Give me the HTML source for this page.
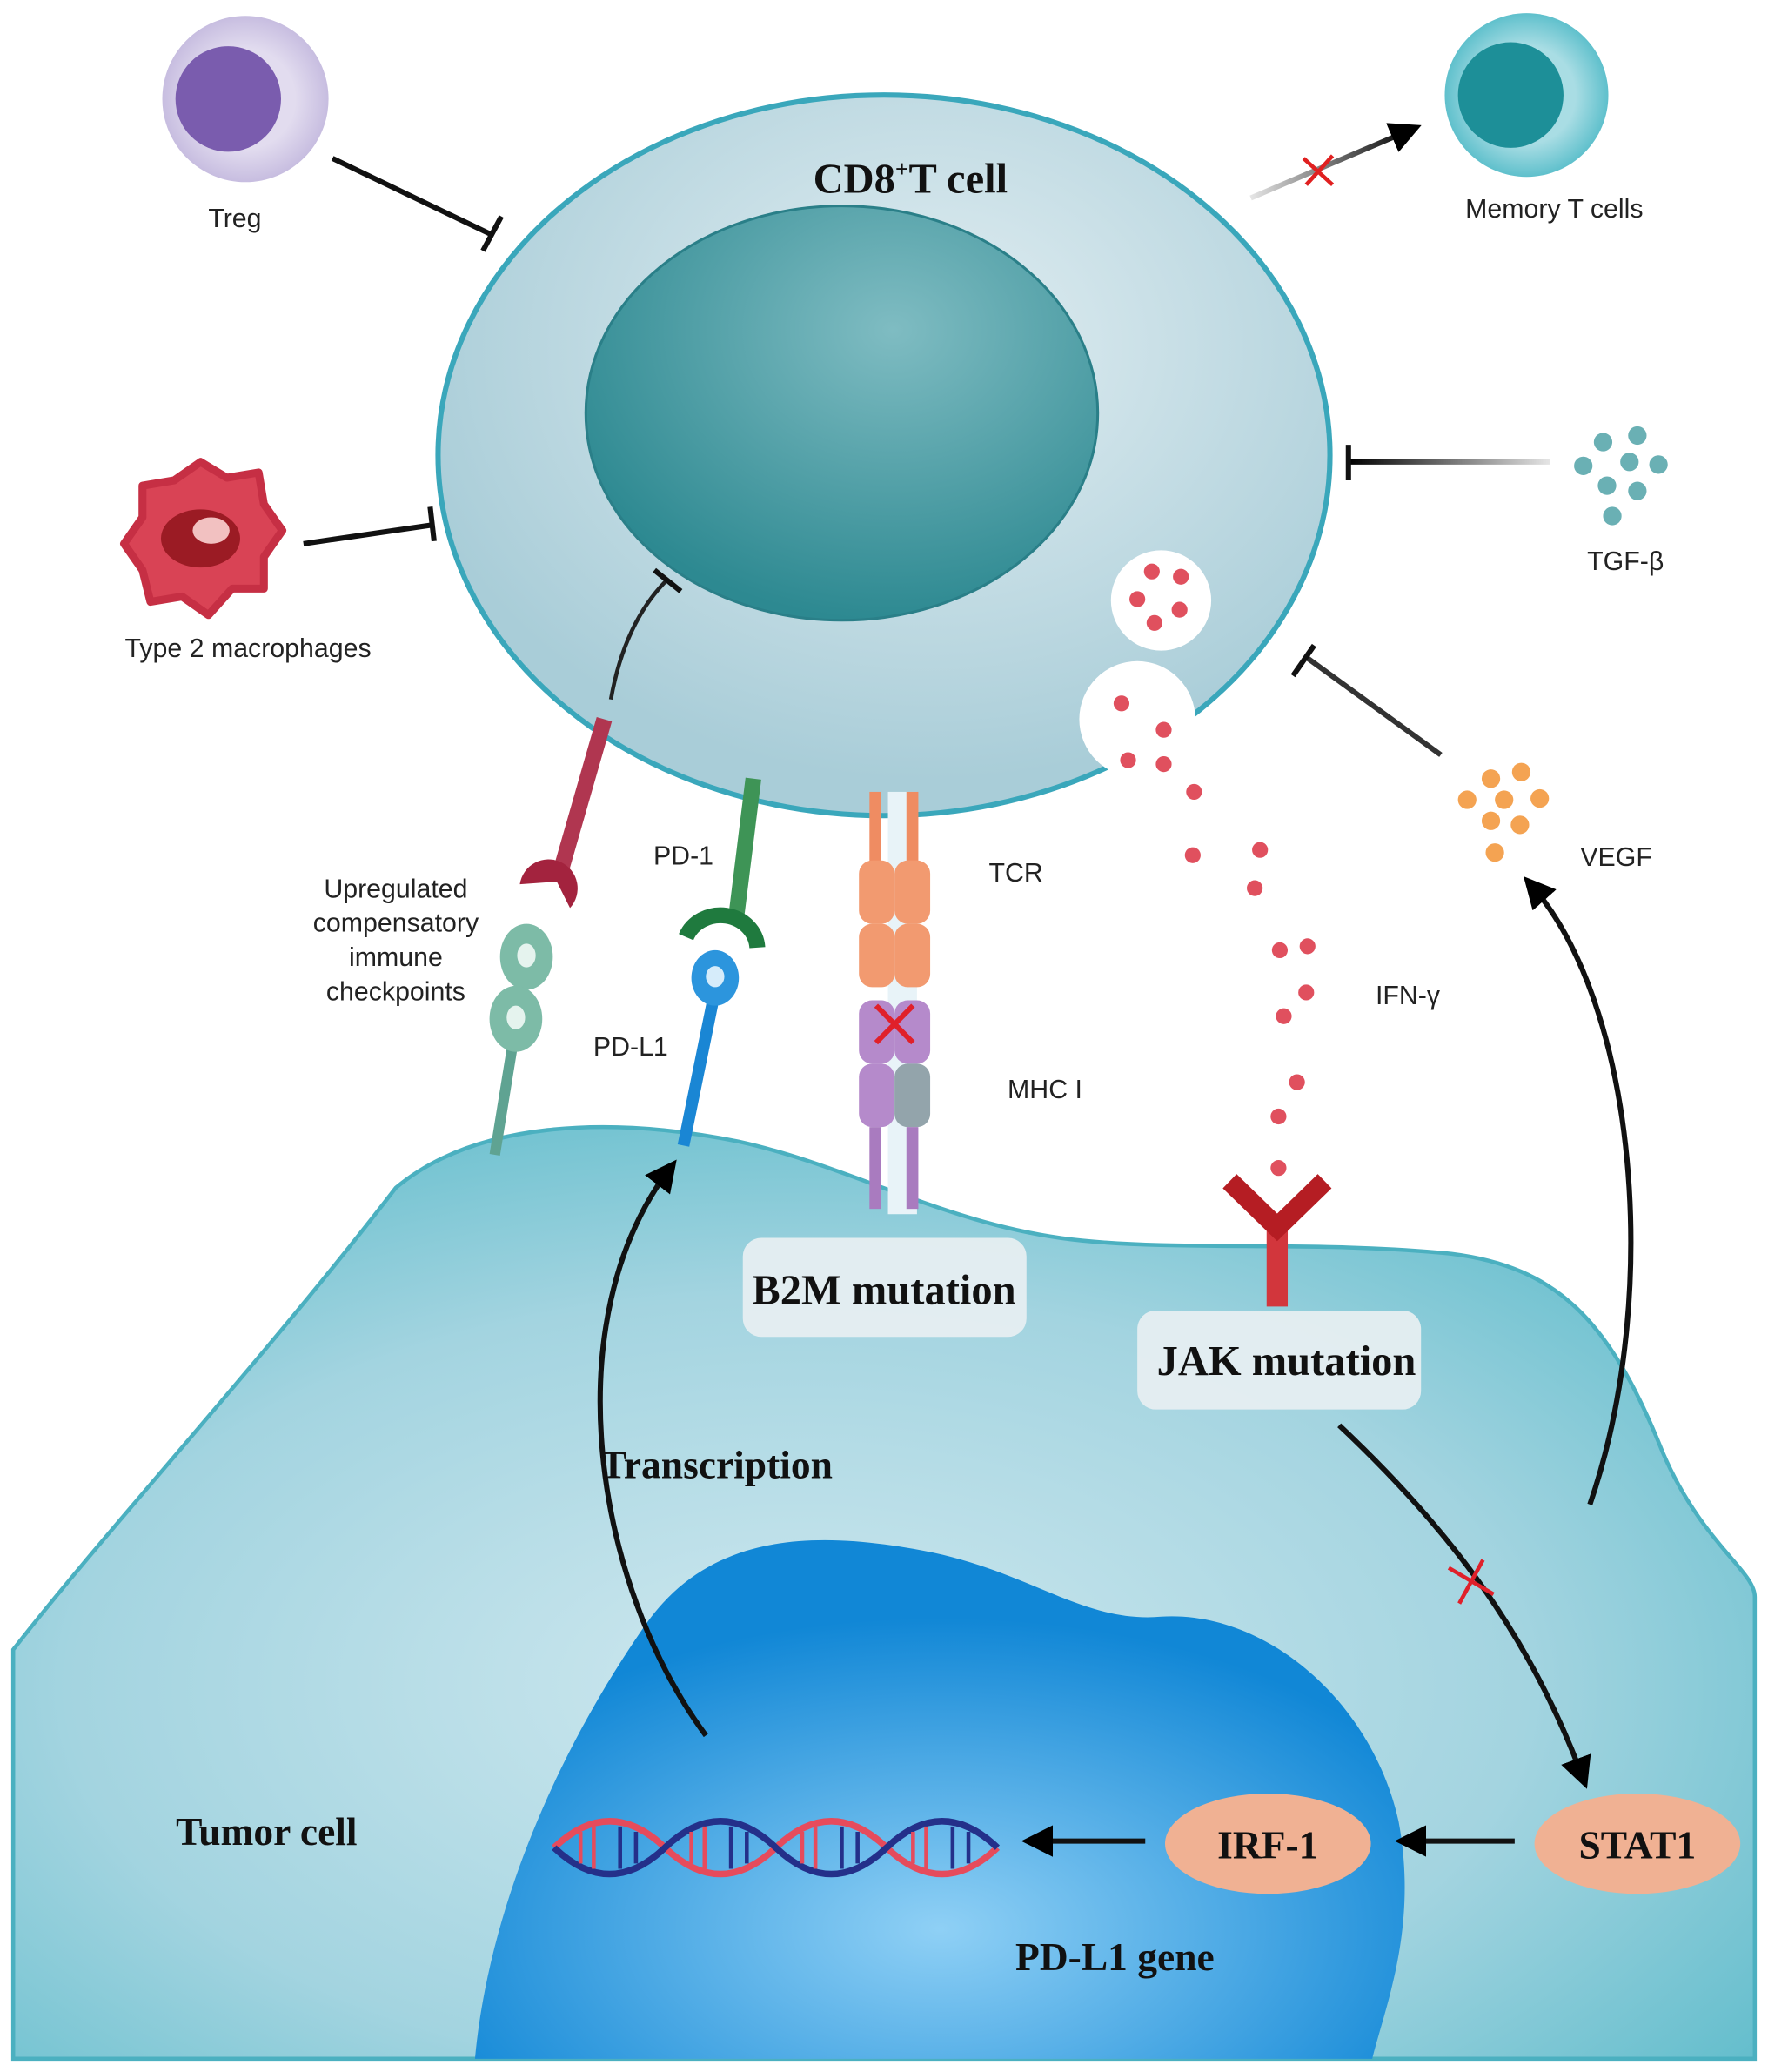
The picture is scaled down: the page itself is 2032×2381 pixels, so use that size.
<!DOCTYPE html>
<html><head><meta charset="utf-8"><style>
html,body{margin:0;padding:0;background:#fff;}
svg{display:block;}
.s{font-family:"Liberation Sans",sans-serif;fill:#222;}
.b{font-family:"Liberation Serif",serif;font-weight:bold;fill:#111;}
</style></head><body>
<svg width="2032" height="2381" viewBox="0 0 1340 1570" preserveAspectRatio="none" xmlns="http://www.w3.org/2000/svg">
<defs>
<radialGradient id="tum" cx="0.45" cy="0.6" r="0.7"><stop offset="0" stop-color="#cfe8ef"/><stop offset="0.6" stop-color="#a3d4e0"/><stop offset="1" stop-color="#5fbccb"/></radialGradient>
<radialGradient id="nuc" cx="0.5" cy="0.75" r="0.6"><stop offset="0" stop-color="#8fd0f5"/><stop offset="1" stop-color="#1187d6"/></radialGradient>
<radialGradient id="tc" cx="0.55" cy="0.35" r="0.6"><stop offset="0" stop-color="#e2eef2"/><stop offset="1" stop-color="#a9cdd8"/></radialGradient>
<radialGradient id="tn" cx="0.6" cy="0.3" r="0.7"><stop offset="0" stop-color="#7fbcc2"/><stop offset="1" stop-color="#2d8991"/></radialGradient>
<radialGradient id="tr" cx="0.5" cy="0.5" r="0.5"><stop offset="0.6" stop-color="#e2dcef"/><stop offset="1" stop-color="#c7bde0"/></radialGradient>
<radialGradient id="mt" cx="0.5" cy="0.5" r="0.5"><stop offset="0.6" stop-color="#a9dde4"/><stop offset="1" stop-color="#5fc0cc"/></radialGradient>
<marker id="ah" markerWidth="6" markerHeight="6" refX="4" refY="3" orient="auto" markerUnits="strokeWidth"><path d="M0,0 L6,3 L0,6 z" fill="#000"/></marker>
<linearGradient id="fadeL" x1="0" x2="1"><stop offset="0" stop-color="#000" stop-opacity="0.1"/><stop offset="1" stop-color="#000"/></linearGradient>
<linearGradient id="tgfg" gradientUnits="userSpaceOnUse" x1="1175" y1="350" x2="1022" y2="350"><stop offset="0" stop-color="#000" stop-opacity="0.1"/><stop offset="1" stop-color="#000"/></linearGradient>
</defs>
<rect width="1340" height="1570" fill="#fff"/>
<path d="M10,1560 L10,1250 C80,1160 200,1030 300,900 C360,850 460,845 560,865 C650,885 720,930 820,940 C900,948 1000,940 1100,950 C1180,960 1220,1000 1260,1100 C1290,1170 1330,1190 1330,1210 L1330,1560 Z" fill="url(#tum)" stroke="#4bb0c0" stroke-width="3"/>
<path d="M360,1560 C370,1450 420,1330 490,1230 C540,1160 620,1160 700,1175 C780,1190 820,1230 880,1225 C960,1220 1040,1290 1060,1380 C1075,1460 1050,1520 1040,1560 Z" fill="url(#nuc)"/>
<ellipse cx="670" cy="345" rx="338" ry="273" fill="url(#tc)" stroke="#3aa7bb" stroke-width="4"/>
<ellipse cx="638" cy="313" rx="194" ry="157" fill="url(#tn)" stroke="#2a7f88" stroke-width="2"/>
<text x="690" y="146" class="b" font-size="32" text-anchor="middle">CD8<tspan font-size="18" dy="-12">+</tspan><tspan dy="12">T cell</tspan></text>
<circle cx="186" cy="75" r="63" fill="url(#tr)"/>
<circle cx="173" cy="75" r="40" fill="#7a5cae"/>
<text x="178" y="172" class="s" font-size="20" text-anchor="middle">Treg</text>
<line x1="252" y1="120" x2="373" y2="178" stroke="#111" stroke-width="4"/>
<line x1="366" y1="190" x2="380" y2="164" stroke="#111" stroke-width="4"/>
<circle cx="1157" cy="72" r="62" fill="url(#mt)"/>
<circle cx="1145" cy="72" r="40" fill="#1d8f98"/>
<text x="1178" y="165" class="s" font-size="20" text-anchor="middle">Memory T cells</text>
<line x1="948" y1="150" x2="1070" y2="98" stroke="url(#fadeL)" stroke-width="4" marker-end="url(#ah)"/>
<path d="M988,120 L1010,140 M990,140 L1010,118" stroke="#e02020" stroke-width="3"/>
<path d="M152,350 L172,362 L196,358 L200,382 L214,402 L200,422 L200,446 L176,446 L158,466 L138,452 L114,456 L108,432 L94,412 L108,392 L108,368 L132,364 Z" fill="#d94355" stroke="#c62f44" stroke-width="6" stroke-linejoin="round"/>
<ellipse cx="152" cy="408" rx="30" ry="22" fill="#9b1b24"/>
<ellipse cx="160" cy="402" rx="14" ry="10" fill="#f2c1c1"/>
<text x="188" y="498" class="s" font-size="20" text-anchor="middle">Type 2 macrophages</text>
<line x1="230" y1="412" x2="326" y2="398" stroke="#111" stroke-width="4"/>
<line x1="326" y1="384" x2="329" y2="410" stroke="#111" stroke-width="4"/>
<g fill="#6ab0b4">
<circle cx="1215" cy="335" r="7"/><circle cx="1241" cy="330" r="7"/><circle cx="1200" cy="353" r="7"/><circle cx="1235" cy="350" r="7"/><circle cx="1257" cy="352" r="7"/><circle cx="1218" cy="368" r="7"/><circle cx="1241" cy="372" r="7"/><circle cx="1222" cy="391" r="7"/></g>
<text x="1232" y="432" class="s" font-size="20" text-anchor="middle">TGF-β</text>
<line x1="1175" y1="350" x2="1022" y2="350" stroke="url(#tgfg)" stroke-width="4"/>
<line x1="1022" y1="337" x2="1022" y2="364" stroke="#111" stroke-width="4"/>
<g fill="#f4a352">
<circle cx="1130" cy="590" r="7"/><circle cx="1153" cy="585" r="7"/><circle cx="1112" cy="606" r="7"/><circle cx="1140" cy="606" r="7"/><circle cx="1167" cy="605" r="7"/><circle cx="1130" cy="622" r="7"/><circle cx="1152" cy="625" r="7"/><circle cx="1133" cy="646" r="7"/></g>
<text x="1225" y="656" class="s" font-size="20" text-anchor="middle">VEGF</text>
<line x1="1092" y1="572" x2="990" y2="498" stroke="#333" stroke-width="4"/>
<line x1="980" y1="512" x2="996" y2="489" stroke="#111" stroke-width="4"/>
<path d="M1205,1140 C1260,980 1240,760 1160,670" fill="none" stroke="#111" stroke-width="4" marker-end="url(#ah)"/>
<circle cx="880" cy="455" r="38" fill="#fff"/>
<circle cx="862" cy="545" r="44" fill="#fff"/>
<g fill="#e0505e">
<circle cx="873" cy="433" r="6"/><circle cx="895" cy="437" r="6"/><circle cx="862" cy="454" r="6"/><circle cx="894" cy="462" r="6"/><circle cx="875" cy="472" r="6"/>
<circle cx="850" cy="533" r="6"/><circle cx="882" cy="553" r="6"/><circle cx="855" cy="576" r="6"/><circle cx="882" cy="579" r="6"/>
<circle cx="905" cy="600" r="6"/><circle cx="904" cy="648" r="6"/><circle cx="955" cy="644" r="6"/><circle cx="951" cy="673" r="6"/>
<circle cx="970" cy="720" r="6"/><circle cx="991" cy="717" r="6"/><circle cx="990" cy="752" r="6"/><circle cx="973" cy="770" r="6"/>
<circle cx="983" cy="820" r="6"/><circle cx="969" cy="846" r="6"/><circle cx="969" cy="885" r="6"/></g>
<text x="1067" y="761" class="s" font-size="20" text-anchor="middle">IFN-γ</text>
<rect x="960" y="930" width="16" height="60" fill="#d2363c"/>
<path d="M932,895 L968,930 L1004,895" fill="none" stroke="#b51d23" stroke-width="15"/>
<rect x="862" y="993" width="215" height="75" rx="14" fill="#e6eef1" opacity="0.95"/>
<text x="975" y="1042" class="b" font-size="32" text-anchor="middle">JAK mutation</text>
<rect x="563" y="938" width="215" height="75" rx="14" fill="#e6eef1" opacity="0.95"/>
<text x="670" y="988" class="b" font-size="32" text-anchor="middle">B2M mutation</text>
<rect x="673" y="600" width="22" height="320" fill="#e8f3f8"/>
<rect x="659" y="600" width="9" height="60" fill="#ef8c62"/><rect x="687" y="600" width="9" height="60" fill="#ef8c62"/>
<rect x="651" y="652" width="27" height="48" rx="10" fill="#f29a70"/><rect x="678" y="652" width="27" height="48" rx="10" fill="#f29a70"/>
<rect x="651" y="700" width="27" height="48" rx="10" fill="#f29a70"/><rect x="678" y="700" width="27" height="48" rx="10" fill="#f29a70"/>
<rect x="651" y="758" width="27" height="48" rx="10" fill="#b58acb"/><rect x="678" y="758" width="27" height="48" rx="10" fill="#b58acb"/>
<rect x="651" y="806" width="27" height="48" rx="10" fill="#b58acb"/><rect x="678" y="806" width="27" height="48" rx="10" fill="#93a4ab"/>
<rect x="659" y="854" width="9" height="62" fill="#a97bbf"/><rect x="687" y="854" width="9" height="62" fill="#a97bbf"/>
<path d="M664,762 L692,790 M664,790 L692,762" stroke="#e0202a" stroke-width="4"/>
<text x="770" y="668" class="s" font-size="20" text-anchor="middle">TCR</text>
<text x="792" y="832" class="s" font-size="20" text-anchor="middle">MHC I</text>
<line x1="571" y1="590" x2="558" y2="695" stroke="#3e9456" stroke-width="12"/>
<path d="M520,710 A28,26 0 0 1 574,718" fill="none" stroke="#1f7a3e" stroke-width="12"/>
<text x="518" y="655" class="s" font-size="20" text-anchor="middle">PD-1</text>
<line x1="540" y1="760" x2="518" y2="868" stroke="#1a86d4" stroke-width="9"/>
<ellipse cx="542" cy="741" rx="18" ry="21" fill="#2c95dd"/>
<ellipse cx="542" cy="740" rx="7" ry="8" fill="#d6ecfa"/>
<text x="478" y="800" class="s" font-size="20" text-anchor="middle">PD-L1</text>
<line x1="458" y1="545" x2="425" y2="660" stroke="#b03650" stroke-width="12"/>
<path d="M394,670 A22,22 0 1 1 432,688 L422,668 Z" fill="#a3233e"/>
<line x1="388" y1="795" x2="375" y2="875" stroke="#5fa392" stroke-width="8"/>
<ellipse cx="399" cy="725" rx="20" ry="25" fill="#7dbba7"/>
<ellipse cx="391" cy="772" rx="20" ry="25" fill="#7dbba7"/>
<ellipse cx="399" cy="724" rx="7" ry="9" fill="#e5f3ee"/><ellipse cx="391" cy="771" rx="7" ry="9" fill="#e5f3ee"/>
<text class="s" font-size="20" text-anchor="middle"><tspan x="300" y="680">Upregulated</tspan><tspan x="300" y="706">compensatory</tspan><tspan x="300" y="732">immune</tspan><tspan x="300" y="758">checkpoints</tspan></text>
<path d="M463,530 C470,490 485,460 505,440" fill="none" stroke="#222" stroke-width="3"/>
<line x1="496" y1="432" x2="516" y2="448" stroke="#111" stroke-width="4"/>
<path d="M535,1315 C450,1200 420,1000 508,885" fill="none" stroke="#111" stroke-width="4" marker-end="url(#ah)"/>
<text x="543" y="1120" class="b" font-size="30" text-anchor="middle">Transcription</text>
<text x="202" y="1398" class="b" font-size="30" text-anchor="middle">Tumor cell</text>
<text x="845" y="1493" class="b" font-size="30" text-anchor="middle">PD-L1 gene</text>
<g stroke-width="5" fill="none">
<path d="M420,1400 Q462,1360 504,1400 T588,1400 T672,1400 T756,1400" stroke="#e64b5c"/>
<path d="M420,1400 Q462,1440 504,1400 T588,1400 T672,1400 T756,1400" stroke="#24308a"/>
</g>
<g stroke="#e64b5c" stroke-width="3">
<line x1="440" y1="1388" x2="440" y2="1412"/><line x1="450" y1="1384" x2="450" y2="1416"/><line x1="524" y1="1388" x2="524" y2="1412"/><line x1="534" y1="1384" x2="534" y2="1416"/><line x1="608" y1="1388" x2="608" y2="1412"/><line x1="618" y1="1384" x2="618" y2="1416"/><line x1="692" y1="1388" x2="692" y2="1412"/><line x1="702" y1="1384" x2="702" y2="1416"/></g>
<g stroke="#24308a" stroke-width="3">
<line x1="470" y1="1384" x2="470" y2="1416"/><line x1="482" y1="1388" x2="482" y2="1412"/><line x1="554" y1="1384" x2="554" y2="1416"/><line x1="566" y1="1388" x2="566" y2="1412"/><line x1="638" y1="1384" x2="638" y2="1416"/><line x1="650" y1="1388" x2="650" y2="1412"/><line x1="722" y1="1384" x2="722" y2="1416"/><line x1="734" y1="1388" x2="734" y2="1412"/></g>
<ellipse cx="961" cy="1397" rx="78" ry="38" fill="#f0b193"/>
<text x="961" y="1408" class="b" font-size="30" text-anchor="middle">IRF-1</text>
<ellipse cx="1241" cy="1397" rx="78" ry="38" fill="#f0b193"/>
<text x="1241" y="1408" class="b" font-size="30" text-anchor="middle">STAT1</text>
<line x1="1148" y1="1395" x2="1065" y2="1395" stroke="#111" stroke-width="4" marker-end="url(#ah)"/>
<line x1="868" y1="1395" x2="782" y2="1395" stroke="#111" stroke-width="4" marker-end="url(#ah)"/>
<path d="M1015,1080 C1100,1160 1160,1240 1200,1348" fill="none" stroke="#111" stroke-width="4" marker-end="url(#ah)"/>
<path d="M1098,1188 L1132,1208 M1106,1215 L1124,1182" stroke="#e0202a" stroke-width="3"/>
</svg>
</body></html>
